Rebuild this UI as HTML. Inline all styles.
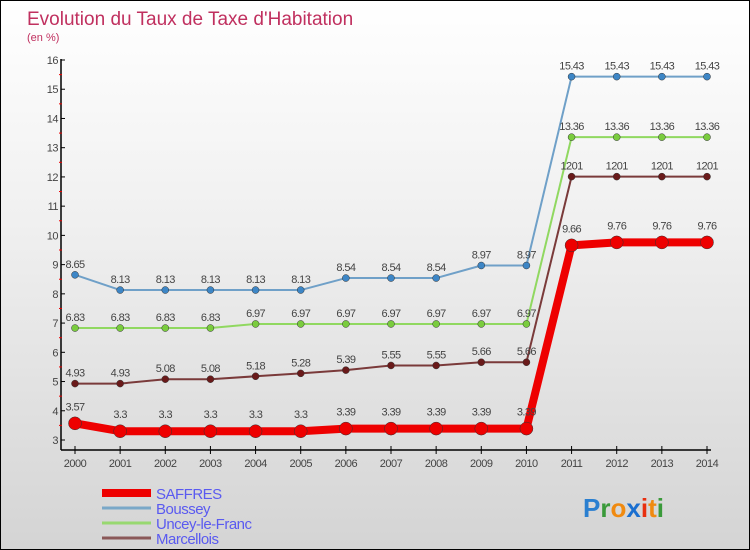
<!DOCTYPE html>
<html><head><meta charset="utf-8">
<style>
html,body{margin:0;padding:0}
body{width:750px;height:550px;overflow:hidden;font-family:"Liberation Sans",sans-serif}
#wrap{position:relative;width:748px;height:548px;border:1px solid #000;background:linear-gradient(#ffffff,#f0f0f0 40%,#d4d4d4)}
svg{position:absolute;left:0;top:0}
</style></head>
<body>
<div id="wrap">
<svg id="chart" width="748" height="548"></svg>
</div>
<script>
const years=["2000","2001","2002","2003","2004","2005","2006","2007","2008","2009","2010","2011","2012","2013","2014"];
const saffres=[3.57,3.3,3.3,3.3,3.3,3.3,3.39,3.39,3.39,3.39,3.39,9.66,9.76,9.76,9.76];
const boussey=[8.65,8.13,8.13,8.13,8.13,8.13,8.54,8.54,8.54,8.97,8.97,15.43,15.43,15.43,15.43];
const uncey=[6.83,6.83,6.83,6.83,6.97,6.97,6.97,6.97,6.97,6.97,6.97,13.36,13.36,13.36,13.36];
const marcellois=[4.93,4.93,5.08,5.08,5.18,5.28,5.39,5.55,5.55,5.66,5.66,12.01,12.01,12.01,12.01];
const yTicks=[3,4,5,6,7,8,9,10,11,12,13,14,15,16];
const seriesNames=["SAFFRES","Boussey","Uncey-le-Franc","Marcellois"];

const NS="http://www.w3.org/2000/svg";
const svg=document.getElementById('chart');
const x=i=>74+i*(632/(years.length-1));
const y=v=>439-(v-3)*(380/13);
function mk(tag,attrs,parent){const e=document.createElementNS(NS,tag);for(const k in attrs)e.setAttribute(k,attrs[k]);(parent||svg).appendChild(e);return e;}
function fmt(v){return String(v).replace(/\.0+$/,'').replace(/^(\d+)\.01$/,'$101').replace(/^(\d+)\.(\d)$/,'$1.$2');}

let t=mk('text',{x:26,y:24,'font-size':19,fill:'#c0305f'});t.textContent="Evolution du Taux de Taxe d'Habitation";


t=mk('text',{x:26,y:40,'font-size':11,fill:'#c0305f'});t.textContent="(en %)";



let ax=mk('line',{x1:60,y1:58,x2:60,y2:449,stroke:'#000','stroke-width':1.5});


ax=mk('line',{x1:60,y1:449,x2:710,y2:449,stroke:'#000','stroke-width':1.5});


yTicks.forEach(v=>{
  mk('line',{x1:60,y1:y(v),x2:64,y2:y(v),stroke:'#000'});
  if(v<16)mk('line',{x1:58,y1:y(v+0.5),x2:61,y2:y(v+0.5),stroke:'#e00'});
  const l=mk('text',{x:57,y:y(v)+4,'font-size':11,fill:'#444','text-anchor':'end','letter-spacing':'-0.5'});l.textContent=v;
  
  
});
years.forEach((yr,i)=>{
  mk('line',{x1:x(i),y1:445,x2:x(i),y2:453,stroke:'#000'});
  const l=mk('text',{x:x(i),y:466,'font-size':11,fill:'#444','text-anchor':'middle','letter-spacing':'-0.5'});l.textContent=yr;
  
  
});

function drawSeries(data,color,dot,w,r,name,labelOff){
  const g=mk('g',{});
  
  
  mk('polyline',{points:data.map((v,i)=>x(i)+','+y(v)).join(' '),fill:'none',stroke:color,'stroke-width':w,'stroke-linejoin':'round'},g);
  data.forEach((v,i)=>{
    const c=mk('circle',{cx:x(i),cy:y(v),r:r,fill:dot,stroke:'#333','stroke-width':0.5},g);
    
    
    const l=mk('text',{x:x(i),y:y(v)-labelOff,'font-size':11,fill:'#444','text-anchor':'middle','letter-spacing':'-0.6'},g);
    l.textContent=fmt(v);
    
    
  });
}
drawSeries(boussey,'#6fa0c8','#3d86c6',2,3.5,'boussey-series',7);
drawSeries(uncey,'#90d860','#7acc3e',2,3.5,'uncey-le-franc-series',7);
drawSeries(marcellois,'#7a3a3a','#6a1a1a',2,3.5,'marcellois-series',7);
drawSeries(saffres,'#ee0000','#ee0000',8,6.5,'saffres-series',13);

const legendColors=['#ee0000','#7aa8c8','#98d870','#8a5858'];
const legendW=[8,3,3,3];
seriesNames.forEach((n,i)=>{
  const yy=492+i*15;
  const g=mk('g',{});
  
  
  mk('line',{x1:101,y1:yy,x2:150,y2:yy,stroke:legendColors[i],'stroke-width':legendW[i]},g);
  const l=mk('text',{x:155,y:yy+6,'font-size':15,fill:'#5a5af0','letter-spacing':'-0.5'},g);l.textContent=n;
});

const logo=mk('text',{x:582,y:516,'font-size':26,'font-family':'"Liberation Sans",sans-serif','font-weight':'bold'});


[['P','#2a7fd0'],['r','#3a9a3a'],['o','#f08a10'],['x','#1a6fd0'],['i','#e83010'],['t','#f08a10'],['i','#3a9a3a']].forEach(([c,col])=>{
  const s=mk('tspan',{fill:col},logo);s.textContent=c;
});
</script>
</body></html>
